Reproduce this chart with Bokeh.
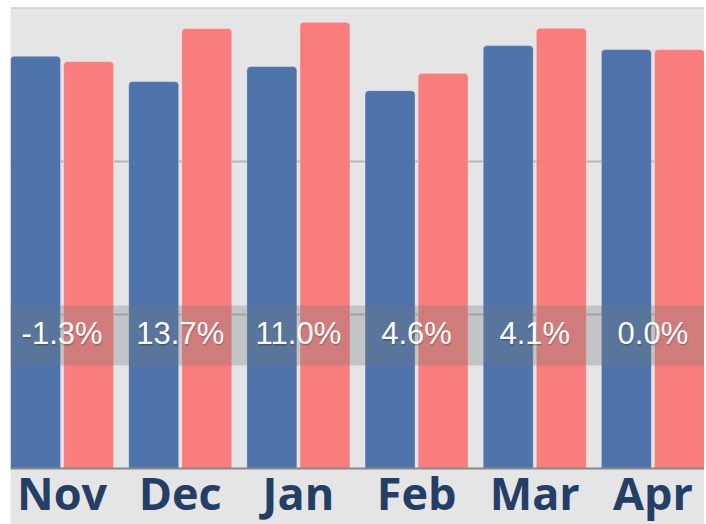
from bokeh.plotting import figure
from bokeh.models import Range1d, FixedTicker, ColumnDataSource, BoxAnnotation, Span
from bokeh.core.properties import value
from bokeh.embed import file_html
from bokeh.resources import INLINE

months = ["Nov", "Dec", "Jan", "Feb", "Mar", "Apr"]
series_a = [268.3, 251.8, 261.6, 245.9, 275.2, 272.6]
series_b = [264.8, 286.3, 290.4, 257.2, 286.5, 272.6]
change_labels = ["-1.3%", "13.7%", "11.0%", "4.6%", "4.1%", "0.0%"]

BLUE = "#4f73ab"
RED = "#f97d7c"
BG = "#e5e5e5"
NAVY = "#243f66"

idx = list(range(len(months)))
offset = 0.2246
bar_w = 0.4237
src = ColumnDataSource(dict(
    xa=[i - offset for i in idx],
    xb=[i + offset for i in idx],
    xc=idx,
    a=series_a,
    b=series_b,
    lab=change_labels,
    month=months,
))

# frame: x 10..704, y 7..524 ; 300 units -> 461 px
p = figure(width=704, height=524, output_backend="svg", toolbar_location=None,
           x_range=Range1d(-0.4364, 5.4364), y_range=Range1d(-36.44, 300),
           min_border_left=10, min_border_right=0, min_border_top=7, min_border_bottom=0)
p.background_fill_color = BG
p.border_fill_color = "white"
p.outline_line_color = None
p.xaxis.visible = False
p.yaxis.visible = False

p.xgrid.grid_line_color = None
p.ygrid.ticker = FixedTicker(ticks=[100, 200])
p.ygrid.grid_line_color = "#b6b6b6"
p.ygrid.grid_line_width = 2

p.add_layout(Span(location=300, dimension="width", line_color="#c4c4c4", line_width=2,
                  level="underlay"))

p.vbar(x="xa", top="a", bottom=0, width=bar_w, source=src, fill_color=BLUE,
       line_color="white", line_alpha=0.35, line_width=1, border_radius=[4, 4, 0, 0])
p.vbar(x="xb", top="b", bottom=0, width=bar_w, source=src, fill_color=RED,
       line_color="white", line_alpha=0.35, line_width=1, border_radius=[4, 4, 0, 0])

p.add_layout(Span(location=0, dimension="width", line_color="#888888", line_width=2))

p.add_layout(BoxAnnotation(bottom=67, top=106, fill_color="#6f7a7b", fill_alpha=0.3,
                           line_color=None, level="annotation"))

for dx, dy, a in [(0, 1, 0.12), (1, 2, 0.12)]:
    p.text(x="xc", y=88, text="lab", source=src, text_align="center", text_baseline="middle",
           text_font=value("Liberation Sans"), text_font_size="31px", text_color="black",
           text_alpha=a, x_offset=dx, y_offset=dy, level="overlay")
p.text(x="xc", y=88, text="lab", source=src, text_align="center", text_baseline="middle",
       text_font=value("Liberation Sans"), text_font_size="31px", text_color="white",
       level="overlay")

p.text(x="xc", y=-15.6, text="month", source=src, text_align="center",
       text_baseline="alphabetic", text_font=value("Open Sans"), text_font_style="bold",
       text_font_size="45px", text_color=NAVY)

open("out.html", "w").write(file_html(p, INLINE))
